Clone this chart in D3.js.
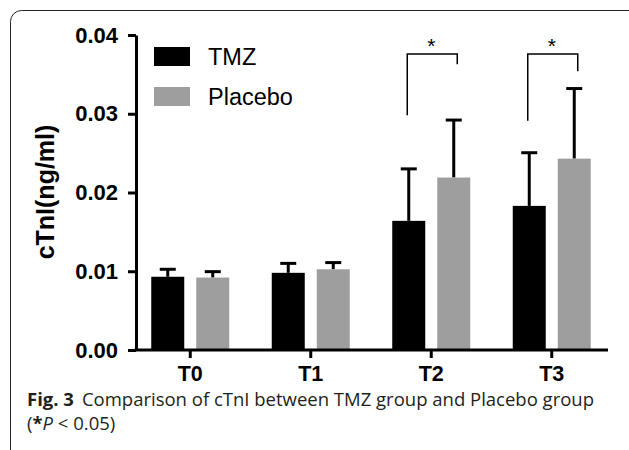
<!DOCTYPE html>
<html>
<head>
<meta charset="utf-8">
<script src="https://cdn.jsdelivr.net/npm/d3@7"></script>
<style>
  body { margin: 0; background: #fff; }
  svg { display: block; }
</style>
</head>
<body>
<div id="plot"></div>
<script>
// time points and group values (mean, mean + SD)
var timePoints = ["T0", "T1", "T2", "T3"];
var groups = ["TMZ", "Placebo"];
var tmzMean = [0.0093, 0.0098, 0.0164, 0.0183];
var tmzUpper = [0.01025, 0.0110, 0.0230, 0.02505];
var placeboMean = [0.0092, 0.01025, 0.0219, 0.0243];
var placeboUpper = [0.00995, 0.0111, 0.0292, 0.0332];
var yTicks = [0.00, 0.01, 0.02, 0.03, 0.04];
// significance brackets: time point, top, left end, right end (in data units)
var sigPoints = ["T2", "T3"];
var sigTop = [0.0376, 0.0376];
var sigLeft = [0.0298, 0.0291];
var sigRight = [0.0363, 0.0354];

var colors = {"TMZ": "#000000", "Placebo": "#9e9e9e"};
var font = "Liberation Sans, Arial, sans-serif";

var W = 629, H = 450;
var svg = d3.select("#plot").append("svg")
    .attr("width", W)
    .attr("height", H);

// frame (rounded, cut at right and bottom)
svg.append("rect")
    .attr("x", 10.5).attr("y", 10.5)
    .attr("width", 640).attr("height", 460)
    .attr("rx", 11)
    .attr("fill", "none")
    .attr("stroke", "#222")
    .attr("stroke-width", 1);

var x = d3.scaleBand()
    .domain(timePoints)
    .range([130, 612]);

var y = d3.scaleLinear()
    .domain([0, 0.04])
    .range([350, 35]);

var data = [];
timePoints.forEach(function(t, i) {
    data.push({t: t, g: "TMZ", v: tmzMean[i], up: tmzUpper[i], off: -22.5});
    data.push({t: t, g: "Placebo", v: placeboMean[i], up: placeboUpper[i], off: 22.5});
});
var barW = 33;

// error bars (drawn first so the bar covers the lower part)
var eb = svg.append("g");
eb.selectAll("line.stem")
    .data(data)
    .join("line")
    .attr("x1", d => x(d.t) + x.bandwidth() / 2 + d.off)
    .attr("x2", d => x(d.t) + x.bandwidth() / 2 + d.off)
    .attr("y1", d => y(d.v))
    .attr("y2", d => y(d.up))
    .attr("stroke", "#000")
    .attr("stroke-width", 3);
eb.selectAll("line.cap")
    .data(data)
    .join("line")
    .attr("x1", d => x(d.t) + x.bandwidth() / 2 + d.off - 8)
    .attr("x2", d => x(d.t) + x.bandwidth() / 2 + d.off + 8)
    .attr("y1", d => y(d.up))
    .attr("y2", d => y(d.up))
    .attr("stroke", "#000")
    .attr("stroke-width", 3);

svg.append("g").selectAll("rect")
    .data(data)
    .join("rect")
    .attr("x", d => x(d.t) + x.bandwidth() / 2 + d.off - barW / 2)
    .attr("y", d => y(d.v))
    .attr("width", barW)
    .attr("height", d => y(0) - y(d.v))
    .attr("fill", d => colors[d.g]);

// axes
var yAxis = svg.append("g")
    .attr("transform", "translate(136,0)")
    .call(d3.axisLeft(y).tickValues(yTicks).tickFormat(d3.format(".2f")).tickSize(8).tickSizeOuter(0));
yAxis.select(".domain").attr("stroke-width", 3);
yAxis.selectAll(".tick line").attr("stroke-width", 3);
yAxis.selectAll(".tick text")
    .attr("x", -18)
    .style("font-family", font)
    .style("font-size", "22px")
    .style("font-weight", "bold")
    .attr("fill", "#000");

var xAxis = svg.append("g")
    .attr("transform", "translate(0,350)")
    .call(d3.axisBottom(x).tickSize(8).tickSizeOuter(0));
xAxis.select(".domain").attr("d", "M134.5,0H608").attr("stroke-width", 3);
xAxis.selectAll(".tick line").attr("stroke-width", 3);
xAxis.selectAll(".tick text")
    .attr("y", 16)
    .style("font-family", font)
    .style("font-size", "21.5px")
    .style("font-weight", "bold")
    .attr("fill", "#000");

svg.append("text")
    .attr("transform", "translate(54,192) rotate(-90)")
    .attr("text-anchor", "middle")
    .style("font-family", font)
    .style("font-size", "25px")
    .style("font-weight", "bold")
    .text("cTnI(ng/ml)");

// significance brackets
sigPoints.forEach(function(t, i) {
    var cx = x(t) + x.bandwidth() / 2;
    var xl = cx - 24, xr = cx + 26;
    svg.append("path")
        .attr("d", `M${xl},${y(sigLeft[i])}V${y(sigTop[i])}H${xr}V${y(sigRight[i])}`)
        .attr("fill", "none")
        .attr("stroke", "#000")
        .attr("stroke-width", 1.5);
    svg.append("text")
        .attr("x", cx)
        .attr("y", y(sigTop[i]) - 1)
        .attr("text-anchor", "middle")
        .style("font-family", font)
        .style("font-size", "21px")
        .text("*");
});

// legend
var legend = svg.append("g");
groups.forEach(function(g, i) {
    legend.append("rect")
        .attr("x", 154).attr("y", 47 + i * 40)
        .attr("width", 36).attr("height", 19)
        .attr("fill", colors[g]);
    legend.append("text")
        .attr("x", 208).attr("y", 65 + i * 40)
        .style("font-family", font)
        .style("font-size", "23.5px")
        .text(g);
});

// caption
var cap = svg.append("text")
    .attr("x", 27).attr("y", 406)
    .style("font-family", "Open Sans, sans-serif")
    .style("font-size", "18.5px")
    .attr("fill", "#231f20");
cap.append("tspan").style("font-weight", "bold").text("Fig. 3");
cap.append("tspan").attr("dx", 8).text("Comparison of cTnI between TMZ group and Placebo group");
var cap2 = svg.append("text")
    .attr("x", 27).attr("y", 430)
    .style("font-family", "Open Sans, sans-serif")
    .style("font-size", "18.5px")
    .attr("fill", "#231f20");
cap2.append("tspan").text("(");
cap2.append("tspan").style("font-weight", "bold").text("*");
cap2.append("tspan").style("font-style", "italic").text("P");
cap2.append("tspan").text(" < 0.05)");
</script>
</body>
</html>
